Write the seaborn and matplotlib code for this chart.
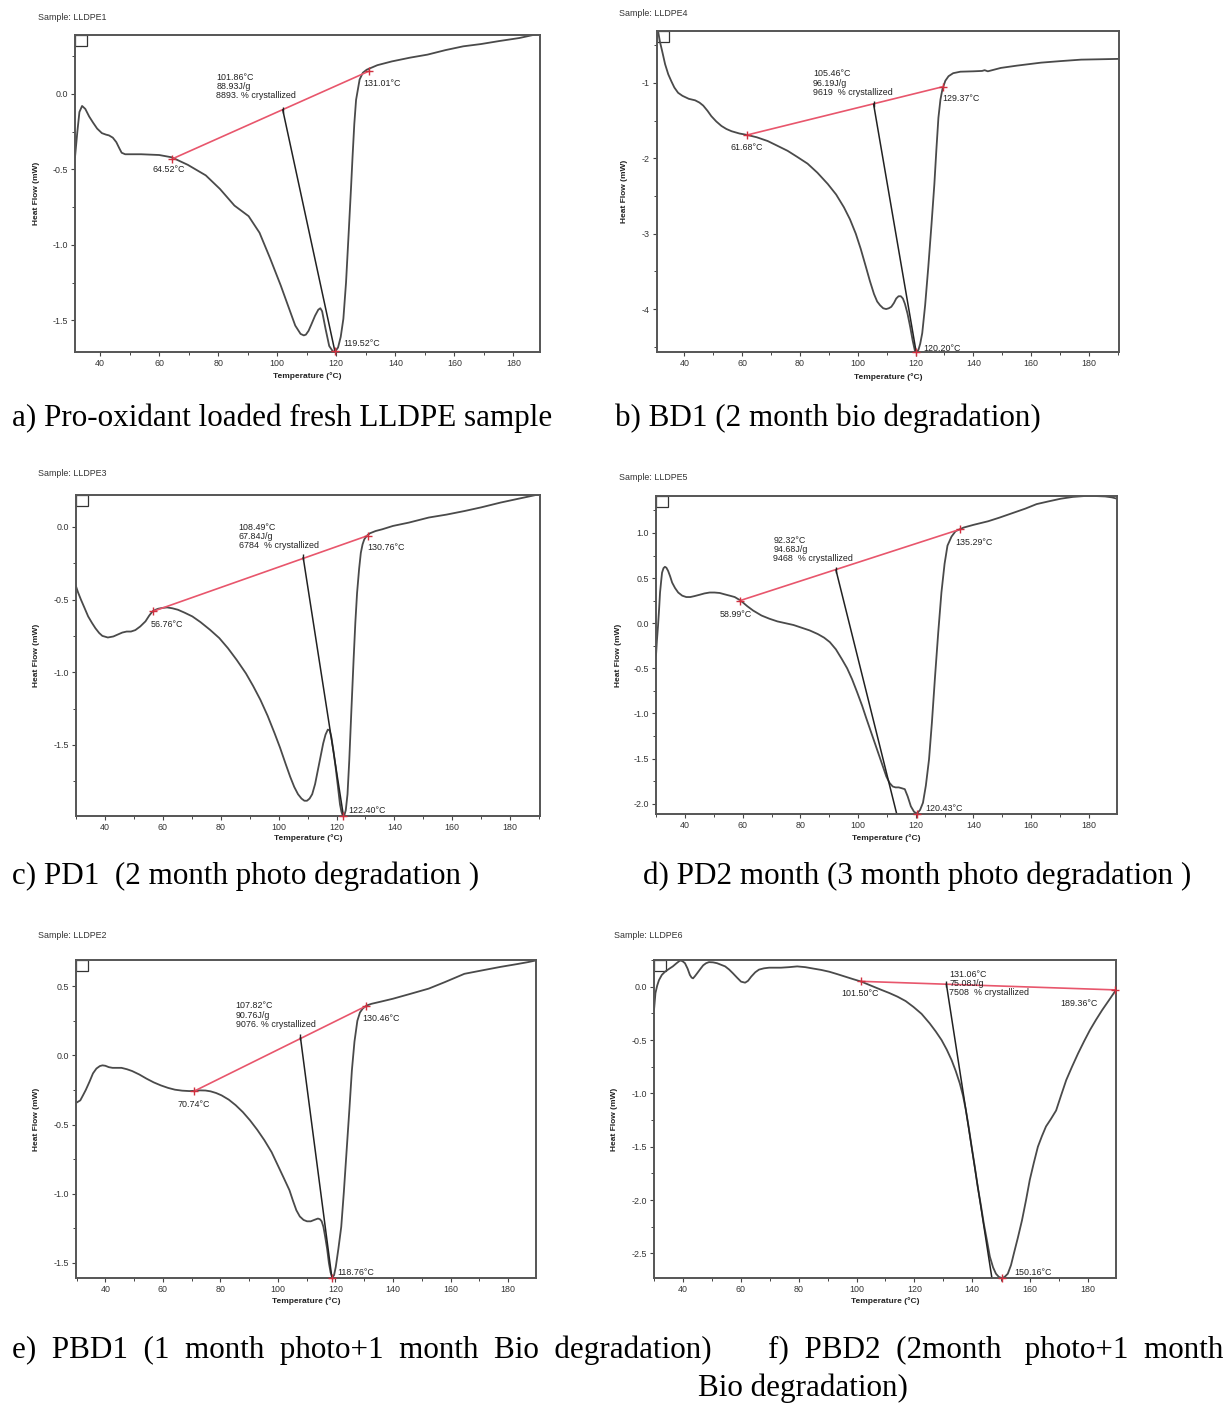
import numpy as np
import pandas as pd
import matplotlib
matplotlib.use("Agg")
import matplotlib.pyplot as plt
from matplotlib.patches import Rectangle
from matplotlib.ticker import MultipleLocator
import seaborn as sns

sns.set_theme(style="white")
plt.rcParams['font.family'] = ['Liberation Sans', 'DejaVu Sans']

# ---------------- data ----------------
sample_names = ["Sample: LLDPE1", "Sample: LLDPE4", "Sample: LLDPE3",
                "Sample: LLDPE5", "Sample: LLDPE2", "Sample: LLDPE6"]
captions = ["a) Pro-oxidant loaded fresh LLDPE sample",
            "b) BD1 (2 month bio degradation)",
            "c) PD1  (2 month photo degradation )",
            "d) PD2 month (3 month photo degradation )",
            "e)  PBD1  (1  month  photo+1  month  Bio  degradation)",
            "f)  PBD2  (2month   photo+1  month\nBio degradation)"]

# a) LLDPE1
T_a = [31.5, 32.3, 33.0, 33.9, 35.0, 36.3, 37.6, 39.0, 40.6, 42.0, 43.0, 44.3, 45.5, 46.5, 47.3, 48.5, 50, 53.9, 60, 64.2,
       69.7, 75.8, 80.6, 85.5, 90.3, 94, 97.6, 101.2, 103.6, 106.1, 107.9, 109.0, 109.7, 110.6, 111.5, 112.8, 113.9, 114.6,
       115.2, 116.4, 117.6, 118.8, 119.5, 120.6, 121.5, 122.4, 123.3, 124.2, 125.0, 125.5, 126.1, 126.7, 127.9, 129.0, 130.3,
       133.9, 138.8, 145, 150.9, 157, 163, 169, 175.2, 182, 189]
HF_a = [-0.42, -0.25, -0.12, -0.08, -0.10, -0.15, -0.19, -0.23, -0.26, -0.27, -0.275, -0.29, -0.32, -0.36, -0.39, -0.40,
        -0.40, -0.40, -0.405, -0.42, -0.47, -0.54, -0.63, -0.74, -0.81, -0.92, -1.09, -1.27, -1.40, -1.535, -1.59, -1.60,
        -1.595, -1.57, -1.53, -1.47, -1.43, -1.42, -1.44, -1.56, -1.67, -1.705, -1.71, -1.68, -1.61, -1.49, -1.25, -0.92,
        -0.62, -0.42, -0.20, -0.04, 0.095, 0.14, 0.16, 0.19, 0.215, 0.24, 0.26, 0.29, 0.315, 0.33, 0.35, 0.37, 0.40]

# b) LLDPE4
T_b = [30.96, 31.5, 32.3, 33.3, 34.4, 35.5, 36.5, 37.8, 39.3, 41.5, 43.7, 45.2, 46.5, 48, 49.3, 51, 52.8, 54.5, 56.3, 59,
       61.8, 65, 68.8, 72, 75.7, 79, 82.6, 86, 89.6, 92.5, 95.2, 97.3, 99.3, 101, 102.8, 104.2, 105.6, 106.7, 107.7, 108.8,
       109.8, 110.7, 111.6, 112.5, 113.3, 114.1, 114.9, 115.6, 116.3, 117.2, 118.1, 119.0, 119.8, 120.4, 121.0, 121.6,
       122.3, 123.3, 124.4, 125.5, 126.5, 127.2, 127.9, 128.6, 129.3, 130.3, 131.4, 133, 135.5, 140, 143, 143.9, 145,
       149.5, 155, 163.4, 170, 177.3, 184, 190.4]
HF_b = [-0.33, -0.45, -0.58, -0.75, -0.885, -0.98, -1.06, -1.13, -1.17, -1.21, -1.23, -1.26, -1.30, -1.37, -1.44, -1.51,
        -1.57, -1.61, -1.64, -1.67, -1.69, -1.72, -1.77, -1.83, -1.90, -1.98, -2.07, -2.19, -2.34, -2.48, -2.65, -2.81,
        -3.0, -3.2, -3.44, -3.63, -3.80, -3.90, -3.95, -3.99, -4.0, -3.99, -3.97, -3.92, -3.86, -3.83, -3.83, -3.86,
        -3.93, -4.06, -4.23, -4.42, -4.56, -4.57, -4.54, -4.46, -4.32, -3.95, -3.44, -2.88, -2.34, -1.88, -1.46, -1.22,
        -1.08, -0.97, -0.91, -0.87, -0.85, -0.845, -0.84, -0.83, -0.845, -0.80, -0.77, -0.73, -0.71, -0.69, -0.685, -0.68]

# c) LLDPE3
T_c = [29.8, 30.7, 31.7, 33, 34.2, 35.5, 36.7, 38, 39.1, 41, 42.9, 44.5, 46, 47.5, 49, 50.5, 52.2, 54, 55.3, 56.5, 57.5,
       58.4, 60, 61.5, 63.3, 65.2, 67.5, 70.2, 73, 76.3, 79.5, 82.5, 85.5, 88.7, 91.2, 93.7, 96.2, 98.6, 100.5, 102.4, 104,
       105.4, 106.7, 107.9, 108.9, 109.8, 110.7, 111.6, 112.6, 113.5, 114.5, 115.4, 116.2, 117, 117.6, 118.2, 119, 119.7,
       120.5, 121.2, 121.7, 122.2, 122.7, 123.2, 123.8, 124.4, 125.1, 125.9, 126.5, 127.1, 127.8, 128.4, 129, 129.6, 130.5,
       131.5, 133.5, 135.8, 139.5, 145, 151.9, 158, 164.3, 170, 176.7, 183, 190.3]
HF_c = [-0.397, -0.45, -0.50, -0.56, -0.616, -0.66, -0.697, -0.73, -0.75, -0.761, -0.754, -0.74, -0.727, -0.72, -0.72,
        -0.71, -0.685, -0.65, -0.61, -0.58, -0.57, -0.563, -0.557, -0.554, -0.56, -0.57, -0.59, -0.616, -0.655, -0.708,
        -0.765, -0.835, -0.915, -1.008, -1.095, -1.19, -1.30, -1.42, -1.52, -1.63, -1.72, -1.79, -1.84, -1.87, -1.885,
        -1.885, -1.87, -1.84, -1.77, -1.68, -1.58, -1.49, -1.43, -1.395, -1.40, -1.445, -1.55, -1.655, -1.79, -1.91,
        -1.96, -1.99, -1.985, -1.95, -1.84, -1.61, -1.28, -0.915, -0.66, -0.455, -0.29, -0.178, -0.12, -0.085, -0.06,
        -0.044, -0.028, -0.016, 0.007, 0.03, 0.065, 0.085, 0.11, 0.135, 0.168, 0.195, 0.226]

# d) LLDPE5
T_d = [29.9, 30.2, 30.6, 31.0, 31.3, 31.7, 32.0, 32.5, 33.0, 33.5, 34.1, 34.8, 35.5, 36.5, 37.6, 39, 40.4, 41.8, 43.2, 45,
       46.7, 48.5, 50.2, 52, 53.7, 55.5, 57.2, 59.3, 61.5, 63.6, 66.5, 69.2, 72, 74.8, 77.6, 80.4, 83.2, 86, 88.2, 90.2,
       92.3, 94.4, 96.2, 97.9, 99.6, 101.4, 102.8, 104.2, 105.6, 107, 108.4, 109.8, 110.9, 112, 113, 114.1, 115.2, 116.2,
       117.2, 118.3, 119.4, 120.4, 121.5, 122.5, 123.5, 124.6, 125.6, 126.7, 127.8, 128.9, 130, 131, 132.4, 133.8, 136.6,
       140, 145.1, 149, 153.5, 158, 161.9, 166, 170.3, 174.5, 178.7, 182, 185.7, 188, 189.8]
HF_d = [-0.36, -0.2, -0.03, 0.17, 0.34, 0.47, 0.56, 0.61, 0.625, 0.615, 0.58, 0.52, 0.45, 0.39, 0.34, 0.305, 0.29, 0.29,
        0.30, 0.315, 0.33, 0.34, 0.34, 0.335, 0.32, 0.305, 0.29, 0.25, 0.19, 0.14, 0.085, 0.05, 0.02, 0.0, -0.02, -0.05,
        -0.08, -0.12, -0.16, -0.21, -0.29, -0.40, -0.50, -0.62, -0.76, -0.915, -1.05, -1.18, -1.31, -1.44, -1.57, -1.70,
        -1.77, -1.81, -1.82, -1.82, -1.83, -1.84, -1.92, -2.03, -2.09, -2.11, -2.07, -1.99, -1.80, -1.51, -1.10, -0.585,
        -0.10, 0.34, 0.66, 0.86, 0.96, 1.02, 1.06, 1.09, 1.13, 1.17, 1.22, 1.27, 1.32, 1.35, 1.38, 1.40, 1.41, 1.41, 1.405,
        1.395, 1.38]

# e) LLDPE2
T_e = [29.8, 31.3, 32.2, 33.2, 34.5, 35.7, 36.9, 38.1, 39, 40, 41.2, 42.5, 44, 45.6, 47.5, 49.3, 51.8, 54.3, 56.8, 59.3,
       61.8, 64.2, 66.7, 69.2, 71, 72.9, 74.8, 76.6, 78.5, 80.4, 82.9, 85.3, 87.8, 90.3, 92.8, 95.3, 97.8, 100.2, 102.1,
       104, 105.2, 106.4, 107.6, 108.9, 110.1, 111.4, 112.6, 113.9, 114.6, 115.2, 115.8, 116.4, 117.1, 117.7, 118.3,
       118.9, 119.5, 120.1, 121, 122, 122.9, 123.8, 124.8, 125.7, 126.6, 127.6, 128.5, 129.4, 130.7, 132.5, 136, 140, 146,
       152.4, 158, 164.8, 171, 177.3, 183, 187, 189.7]
HF_e = [-0.344, -0.325, -0.29, -0.25, -0.19, -0.13, -0.095, -0.077, -0.072, -0.075, -0.085, -0.09, -0.09, -0.09, -0.10,
        -0.113, -0.138, -0.168, -0.195, -0.217, -0.235, -0.248, -0.255, -0.258, -0.256, -0.253, -0.254, -0.26, -0.272,
        -0.289, -0.32, -0.36, -0.41, -0.47, -0.538, -0.614, -0.70, -0.806, -0.89, -0.975, -1.05, -1.12, -1.165, -1.19,
        -1.20, -1.20, -1.19, -1.18, -1.185, -1.20, -1.24, -1.31, -1.40, -1.50, -1.57, -1.605, -1.59, -1.53, -1.40, -1.24,
        -0.99, -0.71, -0.40, -0.108, 0.10, 0.25, 0.31, 0.337, 0.36, 0.373, 0.39, 0.41, 0.445, 0.483, 0.53, 0.59, 0.615,
        0.64, 0.66, 0.675, 0.687]

# f) LLDPE6
T_f = [30, 30.5, 31.1, 31.7, 32.7, 33.8, 35.1, 36.5, 37.8, 39, 39.8, 40.7, 41.6, 42.4, 43, 43.5, 44.2, 44.9, 46, 47, 48,
       49, 50.4, 51.8, 53.2, 54.6, 56, 57.3, 58.7, 60.1, 61.5, 62.5, 63.6, 65, 66.3, 68, 69.8, 71.8, 73.9, 76.7, 79.5, 82.3,
       85, 87.8, 90.6, 93.3, 96.1, 98.9, 101.7, 105, 108.6, 111.4, 114.2, 117, 119.7, 122.5, 125.3, 127.4, 129.4, 131.2,
       132.9, 134.3, 135.7, 136.8, 137.8, 138.8, 139.8, 140.9, 141.9, 143, 144, 145.1, 146.1, 147.2, 148.2, 149.2, 150.2,
       151.2, 152.3, 153.4, 154.4, 155.8, 157.2, 158.6, 159.9, 161.3, 162.7, 164.1, 165.5, 167.2, 169, 170.7, 172.5,
       174.5, 176.6, 178.7, 180.7, 182.8, 184.9, 186.3, 187.7, 189.7]
HF_f = [-0.22, -0.06, 0.01, 0.06, 0.11, 0.14, 0.165, 0.19, 0.22, 0.245, 0.24, 0.22, 0.17, 0.11, 0.085, 0.078, 0.10, 0.125,
        0.165, 0.20, 0.22, 0.23, 0.228, 0.22, 0.205, 0.19, 0.16, 0.125, 0.085, 0.047, 0.0375, 0.055, 0.094, 0.135, 0.16,
        0.172, 0.178, 0.178, 0.178, 0.183, 0.19, 0.183, 0.17, 0.157, 0.14, 0.118, 0.094, 0.07, 0.047, 0.01, -0.03, -0.06,
        -0.094, -0.135, -0.19, -0.255, -0.344, -0.42, -0.5, -0.59, -0.69, -0.79, -0.906, -1.02, -1.156, -1.32, -1.50,
        -1.69, -1.875, -2.05, -2.22, -2.38, -2.53, -2.63, -2.69, -2.72, -2.73, -2.72, -2.69, -2.61, -2.5, -2.35, -2.19,
        -2.0, -1.81, -1.65, -1.5, -1.40, -1.31, -1.24, -1.16, -1.02, -0.875, -0.75, -0.625, -0.51, -0.406, -0.31, -0.22,
        -0.165, -0.11, -0.03]

# integration results: onset, end, split point, peak
onset_T = [64.52, 61.68, 56.76, 58.99, 70.74, 101.50]
onset_HF = [-0.43, -1.69, -0.58, 0.25, -0.26, 0.05]
end_T = [131.01, 129.37, 130.76, 135.29, 130.46, 189.36]
end_HF = [0.15, -1.05, -0.06, 1.04, 0.355, -0.03]
split_T = [101.86, 105.46, 108.49, 92.32, 107.82, 131.06]
split_HF = [-0.105, -1.28, -0.21, 0.59, 0.13, 0.025]
drop_T = [119.52, 120.20, 122.40, 113.4, 118.76, 146.8]
drop_HF = [-1.705, -4.57, -1.99, -2.115, -1.61, -2.73]
peak_T = [119.52, 120.20, 122.40, 120.43, 118.76, 150.16]
peak_HF = [-1.705, -4.57, -1.99, -2.115, -1.61, -2.73]
enthalpy = ["88.93J/g", "96.19J/g", "67.84J/g", "94.68J/g", "90.76J/g", "75.08J/g"]
crystal = ["8893. % crystallized", "9619  % crystallized", "6784  % crystallized",
           "9468  % crystallized", "9076. % crystallized", "7508  % crystallized"]

# axis settings
xlims = [(31.5, 189.0), (30.5, 190.4), (30.0, 190.3), (29.9, 189.8), (29.8, 189.7), (30.0, 189.7)]
ylims = [(-1.71, 0.39), (-4.57, -0.31), (-1.99, 0.22), (-2.115, 1.41), (-1.61, 0.69), (-2.73, 0.25)]
ymajor = [0.5, 1.0, 0.5, 0.5, 0.5, 0.5]
yfmt = ["{:.1f}", "{:.0f}", "{:.1f}", "{:.1f}", "{:.1f}", "{:.1f}"]

# label placement (data coords)
block_pos = [(79.4, 0.14), (84.5, -0.82), (86.2, 0.03), (70.6, 0.97), (85.3, 0.39), (132.0, 0.16)]
end_lab = [(129.0, 0.07), (129.4, -1.21), (130.6, -0.14), (133.7, 0.895), (129.4, 0.265), (170.4, -0.16)]
onset_lab = [(57.6, -0.50), (56.0, -1.85), (55.9, -0.67), (51.9, 0.10), (65.2, -0.356), (94.8, -0.06)]
peak_lab = [(122.4, -1.655), (122.8, -4.52), (124.0, -1.95), (123.2, -2.05), (120.7, -1.57), (154.4, -2.68)]

curves = [(T_a, HF_a), (T_b, HF_b), (T_c, HF_c), (T_d, HF_d), (T_e, HF_e), (T_f, HF_f)]

# ---------------- layout (figure pixels: left, top, right, bottom) ----------------
W, H = 1230, 1404
boxes = [(75, 35, 540, 352), (657, 31, 1119, 352), (76, 495, 540, 816),
         (656, 496, 1117, 814), (76, 960, 536, 1278), (654, 960, 1116, 1278)]
title_xy = [(38, 18), (619, 14), (38, 474), (619, 477), (38, 936), (614, 936)]
ylab_x = [37, 624, 37, 618, 37, 614]
xlab_y = [376, 377, 838, 838, 1301, 1301]
cap_xy = [(12, 418), (615, 418), (12, 876), (643, 876), (12, 1350), (698, 1350)]

fig = plt.figure(figsize=(W / 100, H / 100), dpi=100)
fig.patch.set_facecolor("white")

curve_col = "#4a4a4a"
red = "#e8566c"
small = 6.4
cap_size = 22.4

for i in range(6):
    l, t, r, b = boxes[i]
    ax = fig.add_axes([l / W, 1 - b / H, (r - l) / W, (b - t) / H])
    T, HF = curves[i]
    df = pd.DataFrame({"T": T, "HF": HF})
    sns.lineplot(data=df, x="T", y="HF", ax=ax, color=curve_col, lw=1.3, estimator=None, sort=False)
    base = pd.DataFrame({"T": [onset_T[i], end_T[i]], "HF": [onset_HF[i], end_HF[i]]})
    sns.lineplot(data=base, x="T", y="HF", ax=ax, color=red, lw=1.2, estimator=None, sort=False)
    drop = pd.DataFrame({"T": [split_T[i], drop_T[i]], "HF": [split_HF[i], drop_HF[i]]})
    sns.lineplot(data=drop, x="T", y="HF", ax=ax, color="#222222", lw=1.1, estimator=None, sort=False)
    ax.plot([onset_T[i], end_T[i], peak_T[i]], [onset_HF[i], end_HF[i], peak_HF[i]],
            ls="none", marker="+", ms=6, mew=1.0, color="#d0303f", clip_on=False, zorder=5)
    ax.plot([split_T[i]], [split_HF[i]], ls="none", marker="|", ms=5, mew=1.0, color="#222222", zorder=5)

    ax.set_xlim(*xlims[i])
    ax.set_ylim(*ylims[i])
    ax.xaxis.set_major_locator(MultipleLocator(20))
    ax.xaxis.set_minor_locator(MultipleLocator(10))
    ax.yaxis.set_major_locator(MultipleLocator(ymajor[i]))
    ax.yaxis.set_minor_locator(MultipleLocator(ymajor[i] / 2))
    fmt = yfmt[i]
    ax.yaxis.set_major_formatter(matplotlib.ticker.FuncFormatter(lambda v, p, f=fmt: f.format(v).replace("-0.0", "0.0")))
    ax.tick_params(axis="both", which="major", direction="out", length=3, width=0.8, color="#444444",
                   labelsize=small, labelcolor="#333333", pad=2, bottom=True, left=True)
    ax.tick_params(axis="both", which="minor", direction="out", length=2, width=0.7, color="#444444",
                   bottom=True, left=True)
    for s in ax.spines.values():
        s.set_color("#555555")
        s.set_linewidth(1.4)
    ax.set_xlabel("")
    ax.set_ylabel("")
    ax.add_patch(Rectangle((0, 1), 0.026, -0.035, transform=ax.transAxes, fill=False,
                           ec="#333333", lw=0.9, clip_on=False))

    # annotations
    bx, by = block_pos[i]
    ax.text(bx, by, f"{split_T[i]:.2f}°C\n{enthalpy[i]}\n{crystal[i]}", fontsize=small, color="#222222",
            ha="left", va="top", linespacing=1.05)
    ax.text(*end_lab[i], f"{end_T[i]:.2f}°C", fontsize=small, color="#222222", ha="left", va="center")
    ax.text(*onset_lab[i], f"{onset_T[i]:.2f}°C", fontsize=small, color="#222222", ha="left", va="center")
    ax.text(*peak_lab[i], f"{peak_T[i]:.2f}°C", fontsize=small, color="#222222", ha="left", va="center")

    # titles and axis labels in figure pixels
    tx, ty = title_xy[i]
    fig.text(tx / W, 1 - ty / H, sample_names[i], fontsize=small, color="#333333", ha="left", va="center")
    fig.text(ylab_x[i] / W, 1 - ((t + b) / 2) / H, "Heat Flow (mW)", fontsize=6.0, fontweight="bold",
             color="#222222", rotation=90, ha="center", va="center")
    fig.text(((l + r) / 2) / W, 1 - xlab_y[i] / H, "Temperature (°C)", fontsize=6.0, fontweight="bold",
             color="#222222", ha="center", va="center")

    cx, cy = cap_xy[i]
    if i == 5:
        line1, line2 = captions[i].split("\n")
        fig.text(768 / W, 1 - cy / H, line1, fontsize=cap_size, family="Liberation Serif", color="black",
                 ha="left", va="center")
        fig.text(cx / W, 1 - 1388 / H, line2, fontsize=cap_size, family="Liberation Serif", color="black",
                 ha="left", va="center")
    else:
        fig.text(cx / W, 1 - cy / H, captions[i], fontsize=cap_size, family="Liberation Serif", color="black",
                 ha="left", va="center")

fig.savefig("out.png", dpi=100, facecolor="white")
